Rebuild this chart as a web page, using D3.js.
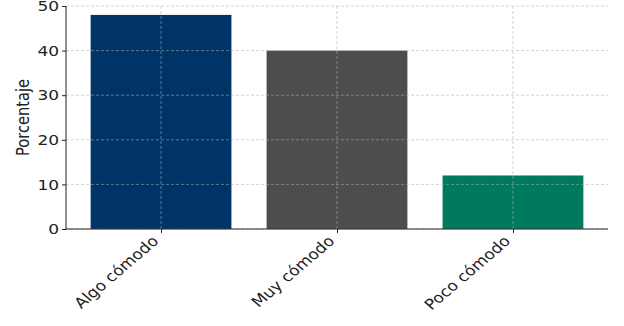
<!DOCTYPE html>
<html>
<head>
<meta charset="utf-8">
<script src="https://cdn.jsdelivr.net/npm/d3@7"></script>
<style>
  body { margin: 0; background: #fff; }
  svg text { font-family: "DejaVu Sans", sans-serif; }
</style>
</head>
<body>
<svg id="chart" width="624" height="326"></svg>
<script>
let categories = ["Algo cómodo", "Muy cómodo", "Poco cómodo"];
let values = [48, 40, 12];
let barColors = ["#003366", "#4d4d4d", "#007a5e"];
let yTicks = [0, 10, 20, 30, 40, 50];

let svg = d3.select("#chart");
let plotLeft = 66, plotRight = 608, plotTop = 6, plotBottom = 229;
// the original looks a bit squashed vertically, text included
let squash = "scale(1,0.86)";

// matplotlib-like: bar width 0.8, 5% margins
let x = d3.scaleLinear().domain([-0.54, categories.length - 1 + 0.54]).range([plotLeft, plotRight]);
let y = d3.scaleLinear().domain([0, 50]).range([plotBottom, plotTop]);
let bw = x(0.4) - x(-0.4);

let g = svg.append("g");

g.selectAll("rect.bar")
    .data(values)
    .enter().append("rect")
    .attr("class", "bar")
    .attr("x", (d, i) => x(i) - bw / 2)
    .attr("width", bw)
    .attr("y", d => y(d))
    .attr("height", d => y(0) - y(d))
    .style("fill", (d, i) => barColors[i]);

// grid over the bars
let grid = g.append("g")
    .style("stroke", "#b0b0b0")
    .style("stroke-opacity", 0.7)
    .style("stroke-width", 0.8)
    .style("stroke-dasharray", "3,2");
grid.selectAll("line.h")
    .data(yTicks)
    .enter().append("line")
    .attr("x1", plotLeft).attr("x2", plotRight)
    .attr("y1", d => y(d)).attr("y2", d => y(d));
grid.selectAll("line.v")
    .data(categories)
    .enter().append("line")
    .attr("x1", (d, i) => x(i)).attr("x2", (d, i) => x(i))
    .attr("y1", plotTop).attr("y2", plotBottom);

// y axis
let yAxis = g.append("g")
    .attr("transform", "translate(" + plotLeft + ",0)")
    .call(d3.axisLeft(y).tickValues(yTicks).tickSize(4).tickPadding(3));
yAxis.attr("font-family", null);
yAxis.select(".domain").attr("d", "M0," + plotBottom + "V" + plotTop).style("stroke", "#222");
yAxis.selectAll("text")
    .style("font-size", "17px")
    .style("fill", "#222")
    .attr("transform", squash);
yAxis.selectAll(".tick line").style("stroke", "#222");

// x axis
let xAxis = g.append("g")
    .attr("transform", "translate(0," + plotBottom + ")")
    .call(d3.axisBottom(x).tickValues(d3.range(categories.length)).tickSize(4).tickFormat(i => categories[i]));
xAxis.attr("font-family", null);
xAxis.select(".domain").attr("d", "M" + plotLeft + ",0H" + plotRight).style("stroke", "#222");
xAxis.selectAll(".tick line").style("stroke", "#222");
xAxis.selectAll("text")
    .style("font-size", "17px")
    .style("fill", "#222")
    .style("text-anchor", "end")
    .attr("dy", null)
    .attr("transform", "translate(-2,13) " + squash + " rotate(-45)")
    .attr("y", 0).attr("x", 0);

svg.append("text")
    .attr("transform", "translate(29," + ((plotTop + plotBottom) / 2) + ") " + squash + " rotate(-90)")
    .style("text-anchor", "middle")
    .style("font-size", "17px")
    .style("fill", "#222")
    .text("Porcentaje");
</script>
</body>
</html>
